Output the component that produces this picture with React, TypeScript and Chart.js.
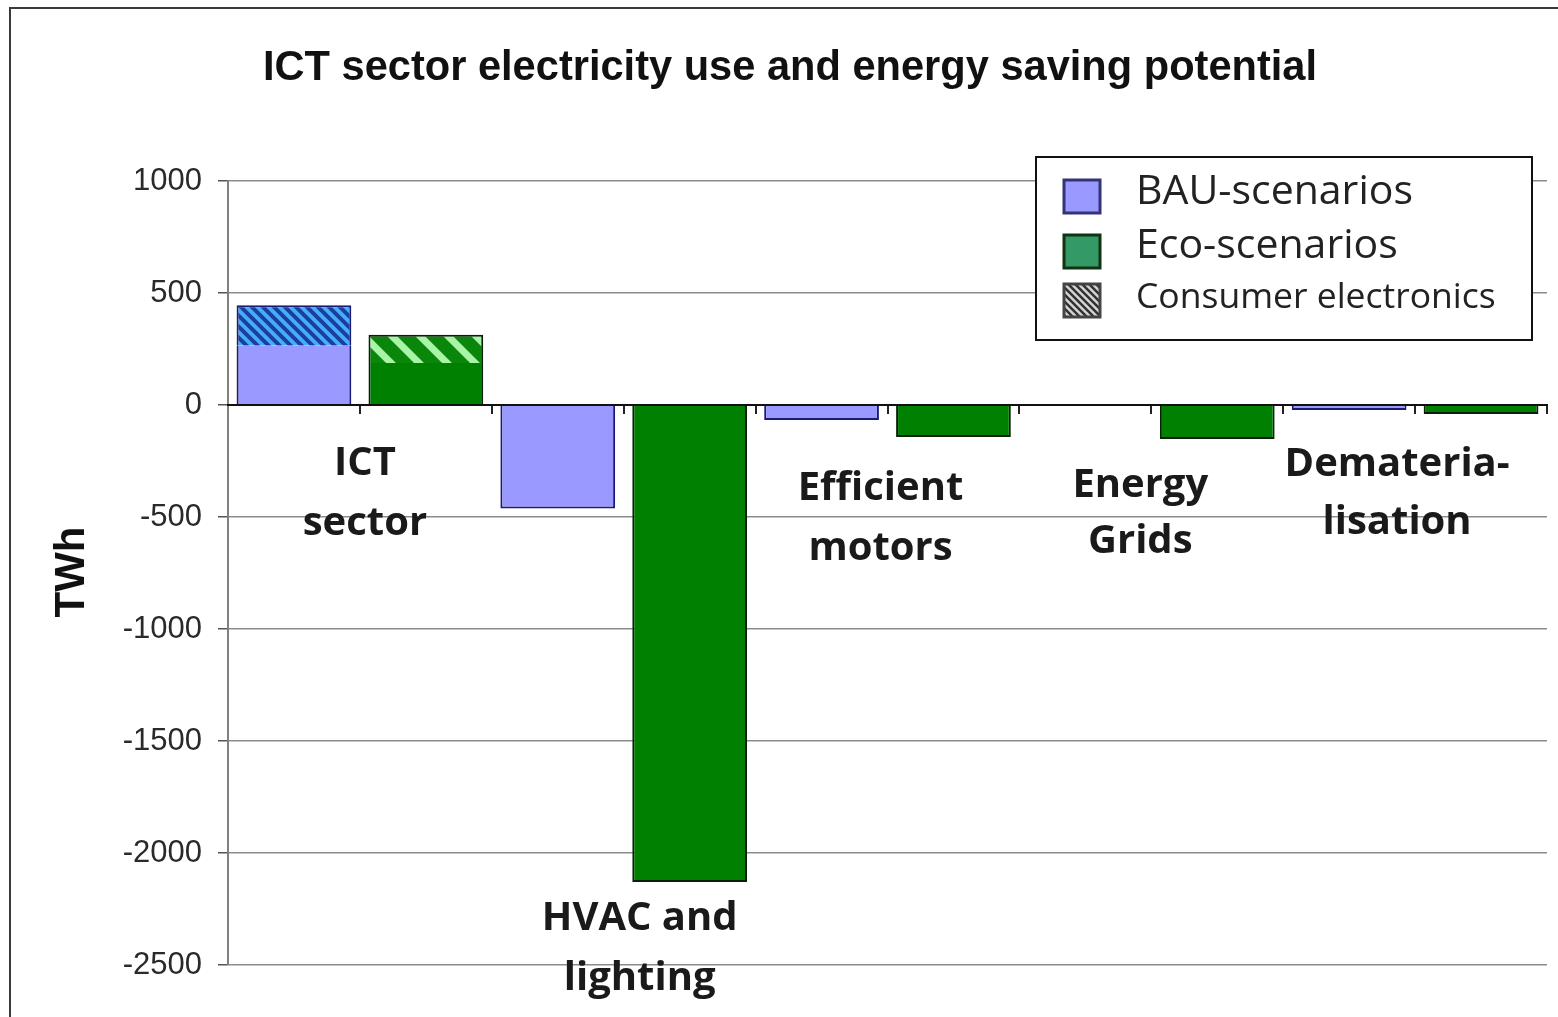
import React, { useEffect, useRef } from 'react';
import { Chart, registerables } from 'chart.js';

Chart.register(...registerables);

// ---------- data ----------
const chartTitle = 'ICT sector electricity use and energy saving potential';
const yAxisTitle = 'TWh';
const groups = ['ICT sector', 'HVAC and lighting', 'Efficient motors', 'Energy Grids', 'Dematerialisation'];
const groupLabelLines = [
  ['ICT', 'sector'],
  ['HVAC and', 'lighting'],
  ['Efficient', 'motors'],
  ['Energy', 'Grids'],
  ['Demateria-', 'lisation'],
];
const bauScenarios = [265, -462, -67, null, -22];
const ecoScenarios = [188, -2130, -143, -152, -40];
const consumerElectronicsBau = [180, null, null, null, null];
const consumerElectronicsEco = [126, null, null, null, null];
const yTicks = [1000, 500, 0, -500, -1000, -1500, -2000, -2500];
const legendLabels = ['BAU-scenarios', 'Eco-scenarios', 'Consumer electronics'];

// ---------- layout (not data) ----------
const labelAnchors = [
  { dx: 5, y: -260, gap: 60 },
  { dx: 16, y: -2293, gap: 60 },
  { dx: -7, y: -375, gap: 60 },
  { dx: -11, y: -362, gap: 56 },
  { dx: -18, y: -264, gap: 58 },
];

function stripePattern(bg: string, stripe: string, period: number, width: number) {
  const c = document.createElement('canvas');
  c.width = period;
  c.height = period;
  const g = c.getContext('2d')!;
  g.fillStyle = bg;
  g.fillRect(0, 0, period, period);
  g.strokeStyle = stripe;
  g.lineWidth = width;
  g.beginPath();
  for (let k = -2; k <= 2; k++) {
    g.moveTo(k * period - period, -period);
    g.lineTo(k * period + 2 * period, 2 * period);
  }
  g.stroke();
  return g.createPattern(c, 'repeat')!;
}

export default function App() {
  const ref = useRef<HTMLCanvasElement>(null);

  useEffect(() => {
    document.body.style.margin = '0';
    const canvas = ref.current!;
    const bauCE = stripePattern('#45adff', '#1c3f99', 11, 4);
    const ecoCE = stripePattern('#0a860a', '#a8f5a8', 28, 7);
    const legendCE = stripePattern('#d4d4d4', '#333333', 7, 2.5);

    const labels = groups.flatMap((g) => [`${g} (BAU)`, `${g} (Eco)`]);
    const bauSlots = (arr: (number | null)[]) => arr.flatMap((v) => [v, null]);
    const ecoSlots = (arr: (number | null)[]) => arr.flatMap((v) => [null, v]);

    const baseBorder = (c: any) =>
      c.raw !== null && c.raw > 0 ? { left: 2, right: 2, top: 0, bottom: 0 } : 2;

    const decor = {
      id: 'decor',
      beforeDraw(chart: any) {
        const ctx = chart.ctx as CanvasRenderingContext2D;
        ctx.save();
        ctx.fillStyle = '#ffffff';
        ctx.fillRect(0, 0, chart.width, chart.height);
        ctx.strokeStyle = '#3a3a3a';
        ctx.lineWidth = 2;
        ctx.strokeRect(10, 8, chart.width + 20, chart.height + 20);
        ctx.fillStyle = '#111';
        ctx.textAlign = 'center';
        ctx.textBaseline = 'middle';
        ctx.font = 'bold 41.6px "Liberation Sans", Arial, sans-serif';
        ctx.fillText(chartTitle, 790, 69);
        ctx.translate(72, 572);
        ctx.rotate(-Math.PI / 2);
        ctx.font = 'bold 42px "Liberation Sans", Arial, sans-serif';
        ctx.fillText(yAxisTitle, 0, 0);
        ctx.restore();
      },
      afterDraw(chart: any) {
        const ctx = chart.ctx as CanvasRenderingContext2D;
        const xs = chart.scales.x;
        const ys = chart.scales.y;
        ctx.save();
        // group labels
        ctx.fillStyle = '#1a1a1a';
        ctx.textAlign = 'center';
        ctx.textBaseline = 'middle';
        ctx.font = 'bold 40px "Open Sans", sans-serif';
        groupLabelLines.forEach((lines, i) => {
          const a = labelAnchors[i];
          const cx = (xs.getPixelForValue(2 * i) + xs.getPixelForValue(2 * i + 1)) / 2 + a.dx;
          const cy = ys.getPixelForValue(a.y);
          lines.forEach((t, j) => ctx.fillText(t, cx, cy + j * a.gap));
        });
        // legend
        ctx.fillStyle = '#ffffff';
        ctx.fillRect(1036, 157, 496, 183);
        ctx.strokeStyle = '#111';
        ctx.lineWidth = 2;
        ctx.strokeRect(1036, 157, 496, 183);
        const sw = [
          { fill: '#9999ff' as any, border: '#333377', y: 180 },
          { fill: '#339966' as any, border: '#113311', y: 235 },
          { fill: legendCE as any, border: '#444444', y: 284 },
        ];
        sw.forEach((s) => {
          ctx.fillStyle = s.fill;
          ctx.fillRect(1064, s.y, 36, 33);
          ctx.strokeStyle = s.border;
          ctx.lineWidth = 3;
          ctx.strokeRect(1064, s.y, 36, 33);
        });
        ctx.fillStyle = '#222';
        ctx.textAlign = 'left';
        ctx.font = '41px "Open Sans", sans-serif';
        ctx.fillText(legendLabels[0], 1136, 192);
        ctx.fillText(legendLabels[1], 1136, 246);
        ctx.font = '35.5px "Open Sans", sans-serif';
        ctx.fillText(legendLabels[2], 1136, 298);
        ctx.restore();
      },
    };

    const chart = new Chart(canvas, {
      type: 'bar',
      data: {
        labels,
        datasets: [
          {
            label: legendLabels[0],
            data: bauSlots(bauScenarios),
            backgroundColor: '#9999ff',
            borderColor: '#1a1a70',
            borderWidth: baseBorder,
          },
          {
            label: legendLabels[1],
            data: ecoSlots(ecoScenarios),
            backgroundColor: '#008000',
            borderColor: '#0a1f0a',
            borderWidth: baseBorder,
          },
          {
            label: legendLabels[2] + ' (BAU)',
            data: bauSlots(consumerElectronicsBau),
            backgroundColor: bauCE,
            borderColor: '#1a1a70',
            borderWidth: 2,
          },
          {
            label: legendLabels[2] + ' (Eco)',
            data: ecoSlots(consumerElectronicsEco),
            backgroundColor: ecoCE,
            borderColor: '#0a1f0a',
            borderWidth: 2,
          },
        ] as any,
      },
      options: {
        responsive: false,
        animation: false,
        devicePixelRatio: 1,
        datasets: { bar: { barPercentage: 0.87, categoryPercentage: 1, borderSkipped: 'start' } } as any,
        layout: { padding: { left: 10, right: 11, top: 181, bottom: 52 } },
        plugins: {
          legend: { display: false },
          title: { display: false },
          tooltip: { enabled: false },
        },
        scales: {
          x: {
            type: 'category',
            stacked: true,
            position: { y: 0 } as any,
            offset: true,
            grid: { display: true, drawOnChartArea: false, drawTicks: true, tickLength: 8, color: '#222', lineWidth: 2, offset: true },
            border: { display: true, color: '#111', width: 2, z: 1 } as any,
            ticks: { display: false },
          },
          y: {
            stacked: true,
            min: -2500,
            max: 1000,
            afterFit: (s: any) => {
              s.width = 218;
            },
            afterBuildTicks: (s: any) => {
              s.ticks = yTicks.map((v) => ({ value: v }));
            },
            grid: { color: '#8c8c8c', lineWidth: 1.5, tickLength: 10, tickColor: '#555' },
            border: { display: true, color: '#808080', width: 2 },
            ticks: {
              padding: 16,
              color: '#2a2a2a',
              font: { family: '"Liberation Sans", Arial, sans-serif', size: 31 },
              callback: (v: any) => String(v),
            },
          },
        },
      },
      plugins: [decor],
    });

    return () => chart.destroy();
  }, []);

  return (
    <div style={{ position: 'absolute', left: 0, top: 0, width: 1558, height: 1017, background: '#fff' }}>
      <canvas ref={ref} width={1558} height={1017} style={{ display: 'block' }} />
    </div>
  );
}
